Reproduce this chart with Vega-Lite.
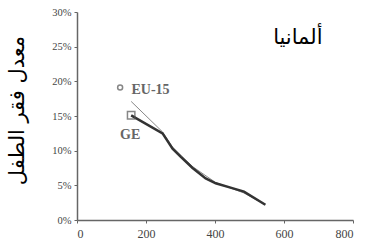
{
  "$schema": "https://vega.github.io/schema/vega-lite/v6.json",
  "autosize": "none",
  "width": 276,
  "height": 208,
  "padding": {"left": 77, "top": 12, "right": 22, "bottom": 31},
  "background": "white",
  "config": {"view": {"stroke": null}},
  "datasets": {
    "lines": [
      {"series": "GE", "income": 157, "rate": 15.1},
      {"series": "GE", "income": 248, "rate": 12.5},
      {"series": "GE", "income": 277, "rate": 10.3},
      {"series": "GE", "income": 301, "rate": 9.1},
      {"series": "GE", "income": 335, "rate": 7.5},
      {"series": "GE", "income": 373, "rate": 6.0},
      {"series": "GE", "income": 402, "rate": 5.3},
      {"series": "GE", "income": 450, "rate": 4.6},
      {"series": "GE", "income": 484, "rate": 4.1},
      {"series": "GE", "income": 546, "rate": 2.2},
      {"series": "EU-15", "income": 157, "rate": 17.1},
      {"series": "EU-15", "income": 248, "rate": 12.7},
      {"series": "EU-15", "income": 277, "rate": 10.5},
      {"series": "EU-15", "income": 335, "rate": 7.7},
      {"series": "EU-15", "income": 402, "rate": 5.4},
      {"series": "EU-15", "income": 484, "rate": 3.9},
      {"series": "EU-15", "income": 546, "rate": 2.2}
    ],
    "labels": [
      {"text": "EU-15", "income": 158, "rate": 18.8},
      {"text": "GE", "income": 154, "rate": 12.3}
    ],
    "markers": [
      {"kind": "EU-15", "income": 125, "rate": 19.1, "shape": "circle"},
      {"kind": "GE", "income": 157, "rate": 15.1, "shape": "square"}
    ],
    "title": [
      {"text": "ألمانيا", "income": 640, "rate": 26.2}
    ]
  },
  "encoding": {
    "x": {
      "field": "income", "type": "quantitative",
      "scale": {"domain": [0, 800], "nice": false},
      "axis": {
        "values": [0, 200, 400, 600, 800], "title": null, "grid": false,
        "labelOverlap": false,
        "domainColor": "#666", "domainWidth": 1.5, "tickColor": "#666", "tickSize": 3,
        "labelFont": "Liberation Serif", "labelFontSize": 12, "labelColor": "#444",
        "labelPadding": 5
      }
    },
    "y": {
      "field": "rate", "type": "quantitative",
      "scale": {"domain": [0, 30], "nice": false},
      "axis": {
        "values": [0, 5, 10, 15, 20, 25, 30], "grid": false,
        "labelOverlap": false,
        "labelExpr": "datum.value + '%'",
        "domainColor": "#666", "domainWidth": 1.5, "tickColor": "#666", "tickSize": 3,
        "labelFont": "Liberation Serif", "labelFontSize": 10.5, "labelColor": "#444",
        "labelPadding": 3,
        "title": "معدل فقر الطفل",
        "titleFont": "DejaVu Sans", "titleFontSize": 21, "titleFontWeight": "normal",
        "titleColor": "#000", "titleX": -50, "titleY": 98
      }
    }
  },
  "layer": [
    {
      "data": {"name": "lines"},
      "mark": {"type": "line", "color": "#888", "strokeWidth": 1},
      "transform": [{"filter": "datum.series === 'EU-15'"}]
    },
    {
      "data": {"name": "lines"},
      "mark": {"type": "line", "color": "#333", "strokeWidth": 2.5},
      "transform": [{"filter": "datum.series === 'GE'"}]
    },
    {
      "data": {"name": "markers"},
      "mark": {"type": "point", "filled": false, "color": "#555", "strokeWidth": 1.5},
      "encoding": {
        "shape": {"field": "shape", "type": "nominal", "scale": null, "legend": null},
        "size": {"field": "kind", "type": "nominal", "scale": {"domain": ["EU-15", "GE"], "range": [25, 55]}, "legend": null}
      }
    },
    {
      "data": {"name": "labels"},
      "mark": {"type": "text", "font": "Liberation Serif", "fontSize": 14, "fontWeight": "bold", "color": "#666", "align": "left", "baseline": "middle"},
      "transform": [{"filter": "datum.text === 'EU-15'"}],
      "encoding": {"text": {"field": "text"}}
    },
    {
      "data": {"name": "labels"},
      "mark": {"type": "text", "font": "Liberation Serif", "fontSize": 14, "fontWeight": "bold", "color": "#666", "align": "center", "baseline": "middle"},
      "transform": [{"filter": "datum.text === 'GE'"}],
      "encoding": {"text": {"field": "text"}}
    },
    {
      "data": {"name": "title"},
      "mark": {"type": "text", "font": "DejaVu Sans", "fontSize": 21, "color": "#000", "align": "center", "baseline": "middle"},
      "encoding": {"text": {"field": "text"}}
    }
  ]
}
